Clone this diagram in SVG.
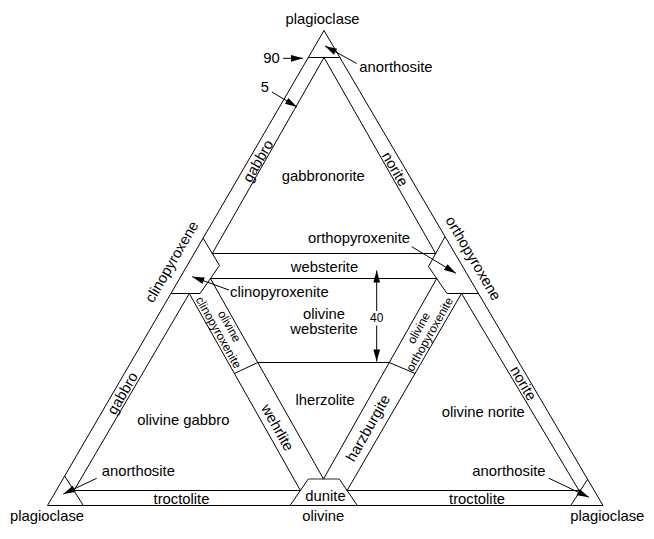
<svg xmlns="http://www.w3.org/2000/svg" width="654" height="539" viewBox="0 0 654 539">
<style>
.ln{fill:none;stroke:#000;stroke-width:1}
.ar{fill:none;stroke:#000;stroke-width:1;marker-end:url(#ah)}
.t{font-family:"Liberation Sans",Arial,Helvetica,sans-serif;font-size:14.8px;fill:#000}
.s{font-size:12px}
.c{text-anchor:middle}
.e{text-anchor:end}
</style>
<defs>
<marker id="ah" markerUnits="userSpaceOnUse" markerWidth="13" markerHeight="8" refX="12" refY="4" orient="auto" overflow="visible">
<path d="M0,0.6 L12,4 L0,7.4 Z" fill="#000"/>
</marker>
</defs>
<rect width="654" height="539" fill="#fff"/>

<g id="frame">
<polygon class="ln" points="324,30.5 47.5,505.5 603,505.5"/>
</g>

<g id="upper-triangle">
<line class="ln" x1="308.3" y1="57.5" x2="339.8" y2="57.5"/>
<polyline class="ln" points="212.3,253.5 324,57.5 435.7,253.5"/>
<line class="ln" x1="212.3" y1="253.5" x2="435.7" y2="253.5"/>
<line class="ln" x1="210.4" y1="278.5" x2="436.7" y2="278.5"/>
</g>

<g id="clinopyroxenite-corner">
<polyline class="ln" points="203.2,238.3 219.5,265.5 200,293.5"/>
<line class="ln" x1="171.1" y1="293.5" x2="200" y2="293.5"/>
</g>

<g id="orthopyroxenite-corner">
<polyline class="ln" points="445,236.7 428.5,266.5 447,293.5"/>
<line class="ln" x1="447" y1="293.5" x2="478.3" y2="293.5"/>
</g>

<g id="lower-left-triangle">
<polyline class="ln" points="74,490.5 189.3,293.5 300.4,490.5"/>
<line class="ln" x1="74" y1="490.5" x2="300.4" y2="490.5"/>
<line class="ln" x1="64.7" y1="476" x2="83.3" y2="505.5"/>
<line class="ln" x1="234.4" y1="373.5" x2="257.8" y2="362.5"/>
</g>

<g id="lower-right-triangle">
<polyline class="ln" points="347.1,490.5 461.5,293.5 579,490.5"/>
<line class="ln" x1="347.1" y1="490.5" x2="579" y2="490.5"/>
<line class="ln" x1="587.6" y1="479.3" x2="570.7" y2="505.5"/>
<line class="ln" x1="389.3" y1="362.5" x2="415.1" y2="373.5"/>
</g>

<g id="central-triangle">
<polyline class="ln" points="210.4,278.5 323.5,479 436.7,278.5"/>
<line class="ln" x1="257.8" y1="362.5" x2="389.3" y2="362.5"/>
<circle cx="323.5" cy="478.5" r="1.1" fill="#000"/>
</g>

<g id="dunite">
<line class="ln" x1="290" y1="505.5" x2="308.3" y2="479"/>
<line class="ln" x1="339.3" y1="479" x2="357.3" y2="505.5"/>
<line x1="308.3" y1="479" x2="339.3" y2="479" stroke="#666" stroke-width="1.4"/>
</g>

<g id="connectors">
<line class="ar" x1="283" y1="58.3" x2="303" y2="58.3"/>
<line class="ar" x1="272" y1="92" x2="297" y2="107"/>
<line class="ar" x1="356.7" y1="63.5" x2="325" y2="46"/>
<line class="ar" x1="229" y1="290" x2="192.3" y2="276.7"/>
<line class="ar" x1="411.7" y1="246.7" x2="456" y2="273.3"/>
<line class="ar" x1="96.7" y1="478.3" x2="63.3" y2="494"/>
<line class="ar" x1="549" y1="478.3" x2="589" y2="497.3"/>
<line class="ar" x1="376.7" y1="311" x2="376.7" y2="270.5"/>
<line class="ar" x1="376.7" y1="325.5" x2="376.7" y2="361.5"/>
</g>

<g id="labels">
<text class="t c" x="322.5" y="24">plagioclase</text>
<text class="t" x="359.3" y="72">anorthosite</text>
<text class="t" x="263.3" y="62.5">90</text>
<text class="t" x="260.7" y="91.7">5</text>
<text class="t c" x="323.3" y="180.7">gabbronorite</text>
<text class="t e" x="410" y="243">orthopyroxenite</text>
<text class="t c" x="324.5" y="271.5">websterite</text>
<text class="t" x="230" y="297">clinopyroxenite</text>
<text class="t c" x="324" y="319">olivine</text>
<text class="t c" x="324" y="334">websterite</text>
<text class="t s c" x="376.7" y="321.5">40</text>
<text class="t c" x="325" y="405">lherzolite</text>
<text class="t" x="137.3" y="425">olivine gabbro</text>
<text class="t" x="441.7" y="416.7">olivine norite</text>
<text class="t" x="101.7" y="476">anorthosite</text>
<text class="t" x="472.3" y="476">anorthosite</text>
<text class="t c" x="181.5" y="503.5">troctolite</text>
<text class="t e" x="505" y="503.5">troctolite</text>
<text class="t c" x="325.5" y="500.5">dunite</text>
<text class="t c" x="323.2" y="521">olivine</text>
<text class="t c" x="47" y="521">plagioclase</text>
<text class="t c" x="607.3" y="521">plagioclase</text>

<text class="t c" transform="translate(258,161) rotate(-59.8)" y="5">gabbro</text>
<text class="t c" transform="translate(395,169) rotate(59.6)" y="5">norite</text>
<text class="t c" transform="translate(171.7,261.7) rotate(-59.8)" y="5">clinopyroxene</text>
<text class="t c" transform="translate(473.3,258.3) rotate(59.6)" y="5">orthopyroxene</text>
<text class="t c" transform="translate(122.5,393.3) rotate(-59.8)" y="5">gabbro</text>
<text class="t c" transform="translate(523.3,383.3) rotate(59.6)" y="5">norite</text>
<text class="t c" transform="translate(277.5,427.5) rotate(60.6)" y="5">wehrlite</text>
<text class="t c" transform="translate(368,428) rotate(-60.4)" y="5">harzburgite</text>
<g transform="translate(224.2,329.2) rotate(60.5)">
<text class="t s c" y="-2">olivine</text>
<text class="t s c" y="10.5">clinopyroxenite</text>
</g>
<g transform="translate(424,331) rotate(-60.5)">
<text class="t s c" y="-2">olivine</text>
<text class="t s c" y="10.5">orthopyroxenite</text>
</g>
</g>
</svg>
